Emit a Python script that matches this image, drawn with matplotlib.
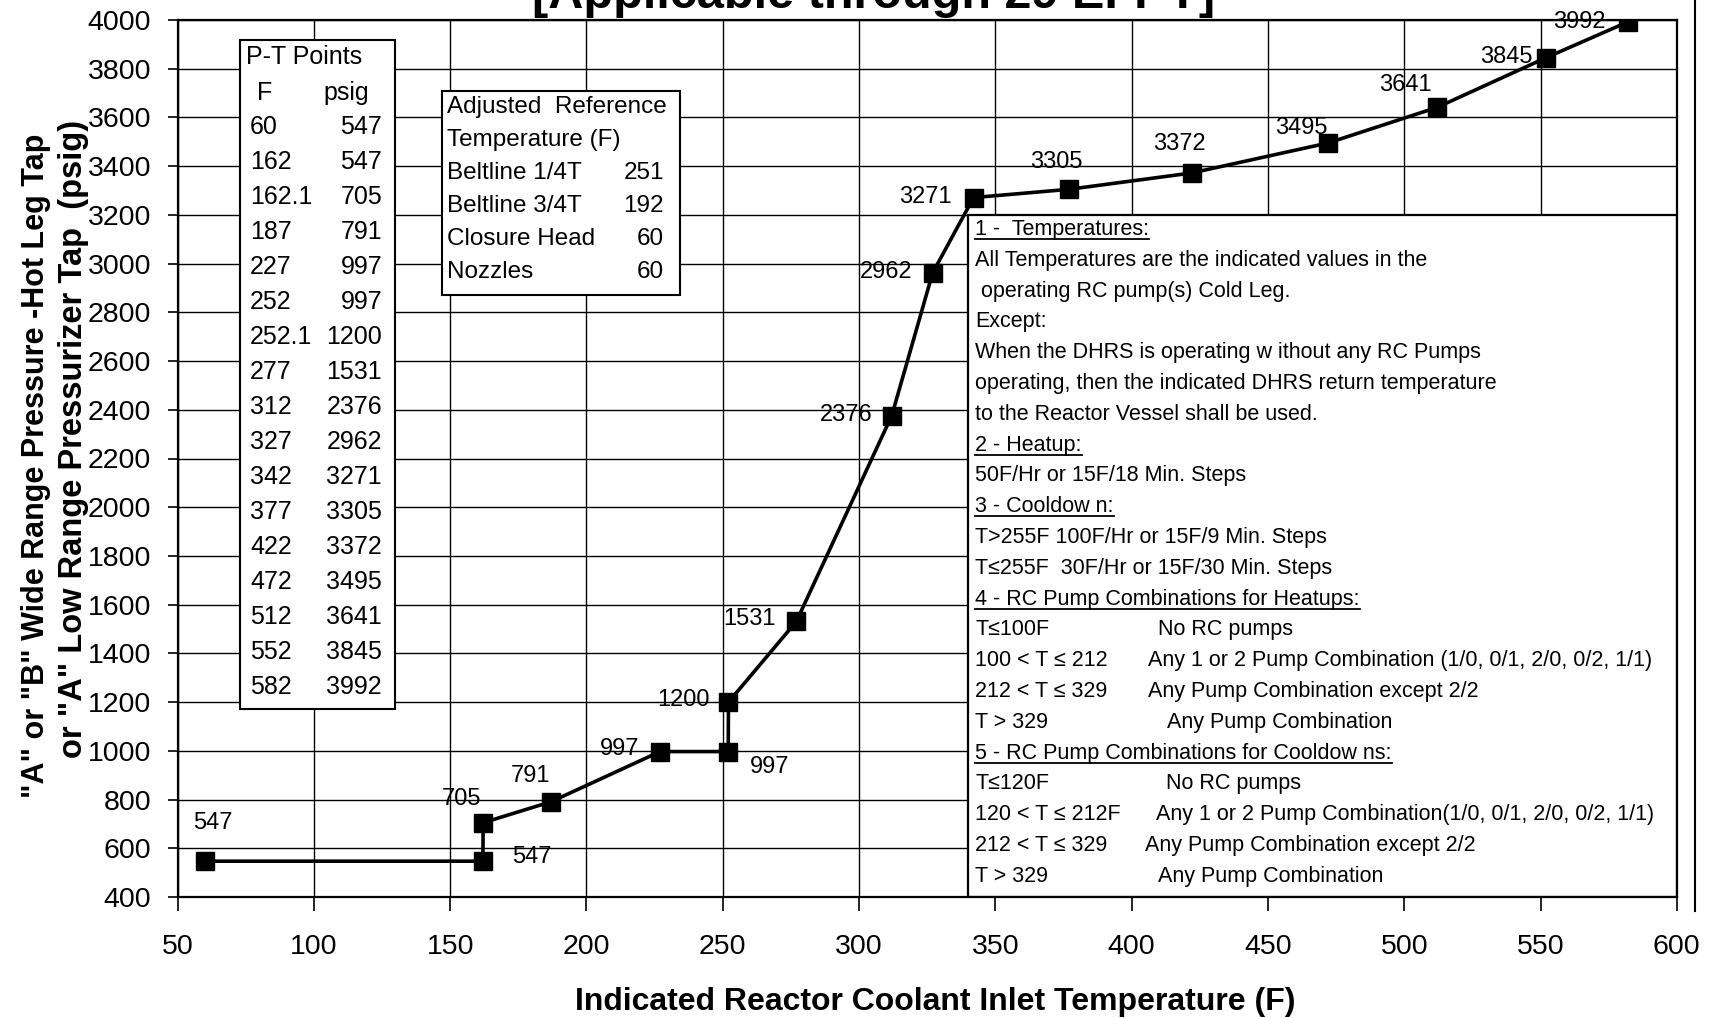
import matplotlib.pyplot as plt
from matplotlib.patches import Rectangle
from matplotlib.lines import Line2D

plt.rcParams['font.family'] = ['Liberation Sans', 'DejaVu Sans']

# P-T limit curve (heatup / cooldown)
temp_f = [60, 162, 162.1, 187, 227, 252, 252.1, 277, 312, 327, 342, 377, 422, 472, 512, 552, 582]
press_psig = [547, 547, 705, 791, 997, 997, 1200, 1531, 2376, 2962, 3271, 3305, 3372, 3495, 3641, 3845, 3992]

# where each point label sits next to its marker (pixels)
label_offsets = [(8, 38), (49, 4), (-22, 24), (-21, 26), (-40, 3), (41, -15), (-45, 2), (-47, 2),
                 (-46, 1), (-46, 1), (-48, 1), (-13, 27), (-12, 29), (-27, 15), (-32, 22), (-40, 1), (-48, 0)]

# table texts
pt_header = ['F', 'psig']
ref_rows = [('Beltline 1/4T', '251'), ('Beltline 3/4T', '192'), ('Closure Head', '60'), ('Nozzles', '60')]

notes = [
    ('1 -  Temperatures:', None, True),
    ('All Temperatures are the indicated values in the', None, False),
    (' operating RC pump(s) Cold Leg.', None, False),
    ('Except:', None, False),
    ('When the DHRS is operating w ithout any RC Pumps', None, False),
    ('operating, then the indicated DHRS return temperature', None, False),
    ('to the Reactor Vessel shall be used.', None, False),
    ('2 - Heatup:', None, True),
    ('50F/Hr or 15F/18 Min. Steps', None, False),
    ('3 - Cooldow n:', None, True),
    ('T>255F 100F/Hr or 15F/9 Min. Steps', None, False),
    ('T≤255F  30F/Hr or 15F/30 Min. Steps', None, False),
    ('4 - RC Pump Combinations for Heatups:', None, True),
    ('T≤100F', 'No RC pumps', False),
    ('100 < T ≤ 212', 'Any 1 or 2 Pump Combination (1/0, 0/1, 2/0, 0/2, 1/1)', False),
    ('212 < T ≤ 329', 'Any Pump Combination except 2/2', False),
    ('T > 329', 'Any Pump Combination', False),
    ('5 - RC Pump Combinations for Cooldow ns:', None, True),
    ('T≤120F', 'No RC pumps', False),
    ('120 < T ≤ 212F', 'Any 1 or 2 Pump Combination(1/0, 0/1, 2/0, 0/2, 1/1)', False),
    ('212 < T ≤ 329', 'Any Pump Combination except 2/2', False),
    ('T > 329', 'Any Pump Combination', False),
]
col2_x = [1158, 1148, 1148, 1167, 1166, 1156, 1145, 1158]

W, H = 1712, 1018
AX_L, AX_R, AX_T, AX_B = 177.6, 1676.8, 20, 897

fig = plt.figure(figsize=(W / 100, H / 100), dpi=100)
ax = fig.add_axes([AX_L / W, 1 - AX_B / H, (AX_R - AX_L) / W, (AX_B - AX_T) / H])


def axy(px, py):
    # pixel position in the picture -> axes fraction
    return (px - AX_L) / (AX_R - AX_L), (AX_B - py) / (AX_B - AX_T)


ax.plot(temp_f, press_psig, color='black', lw=2.6, marker='s', ms=13.5, zorder=5)
for x, y, (dx, dy) in zip(temp_f, press_psig, label_offsets):
    ax.annotate(str(y), (x, y), xytext=(dx, dy), textcoords='offset pixels',
                ha='center', va='center', fontsize=17, zorder=6)

ax.set_xlim(50, 600)
ax.set_ylim(400, 4000)
ax.set_xticks(range(50, 601, 50))
ax.set_yticks(range(400, 4001, 200))
ax.grid(True, color='black', lw=1.0)
ax.set_axisbelow(True)
for s in ax.spines.values():
    s.set_linewidth(1.6)
ax.tick_params(axis='y', length=7, width=1.2, pad=12, labelsize=20.5)
ax.tick_params(axis='x', length=10, width=1.2, pad=17, labelsize=20.5)

# P-T points box
x0, y0 = axy(239.7, 709)
x1, y1 = axy(395, 40)
ax.add_patch(Rectangle((x0, y0), x1 - x0, y1 - y0, transform=ax.transAxes,
                       facecolor='white', edgecolor='black', lw=1.5, zorder=2))
ax.text(*axy(246, 57), 'P-T Points', transform=ax.transAxes, fontsize=18, va='center', zorder=3)
ax.text(*axy(257, 93), pt_header[0], transform=ax.transAxes, fontsize=18, va='center', zorder=3)
ax.text(*axy(346, 93), pt_header[1], transform=ax.transAxes, fontsize=18, va='center', ha='center', zorder=3)
for i, (t, p) in enumerate(zip(temp_f, press_psig)):
    ax.text(*axy(250, 127 + 35 * i), str(t), transform=ax.transAxes, fontsize=18, va='center', zorder=3)
    ax.text(*axy(382, 127 + 35 * i), str(p), transform=ax.transAxes, fontsize=18, va='center',
            ha='right', zorder=3)

# adjusted reference temperature box
x0, y0 = axy(442, 295)
x1, y1 = axy(680, 91)
ax.add_patch(Rectangle((x0, y0), x1 - x0, y1 - y0, transform=ax.transAxes,
                       facecolor='white', edgecolor='black', lw=1.5, zorder=2))
ax.text(*axy(447, 107), 'Adjusted  Reference', transform=ax.transAxes, fontsize=17.5, va='center', zorder=3)
ax.text(*axy(447, 140), 'Temperature (F)', transform=ax.transAxes, fontsize=17.5, va='center', zorder=3)
for i, (name, val) in enumerate(ref_rows):
    ax.text(*axy(447, 173 + 33 * i), name, transform=ax.transAxes, fontsize=17.5, va='center', zorder=3)
    ax.text(*axy(664, 173 + 33 * i), val, transform=ax.transAxes, fontsize=17.5, va='center',
            ha='right', zorder=3)

# notes box
ax.add_patch(Rectangle((340, 400), 260, 2800, facecolor='white', edgecolor='black', lw=1.6, zorder=2))
heads = []
k = 0
for i, (left, right, underline) in enumerate(notes):
    yb = 228 + 30.8 * i + 7
    t = ax.text(*axy(975, yb), left, transform=ax.transAxes, fontsize=15.5, va='baseline', zorder=3)
    if underline:
        heads.append((t, yb))
    if right is not None:
        ax.text(*axy(col2_x[k], yb), right, transform=ax.transAxes, fontsize=15.5,
                va='baseline', zorder=3)
        k += 1

fig.text(0.546, 0.016, 'Indicated Reactor Coolant Inlet Temperature (F)', ha='center', va='center',
         fontsize=23, fontweight='bold')
fig.text(0.021, 0.542, '"A" or "B" Wide Range Pressure -Hot Leg Tap', rotation=90, ha='center',
         va='center', fontsize=22, fontweight='bold')
fig.text(0.043, 0.569, 'or "A" Low Range Pressurizer Tap  (psig)', rotation=90, ha='center',
         va='center', fontsize=23.5, fontweight='bold')
fig.text(0.51, 0.992, '[Applicable through 29 EFPY]', ha='center', va='baseline',
         fontsize=35, fontweight='bold')

# scanned page edge on the right
fig.add_artist(Line2D([0.990, 0.990], [1.0, 0.105], color='black', lw=1.5))

# underline the note headings
fig.canvas.draw()
inv = ax.transAxes.inverted()
for t, yb in heads:
    bb = t.get_window_extent()
    xa0 = inv.transform((bb.x0, 0))[0]
    xa1 = inv.transform((bb.x1, 0))[0]
    ya = axy(0, yb + 4)[1]
    ax.add_line(Line2D([xa0, xa1], [ya, ya], transform=ax.transAxes, color='black', lw=1.3, zorder=3))

fig.savefig('out.png', dpi=100, facecolor='white')
